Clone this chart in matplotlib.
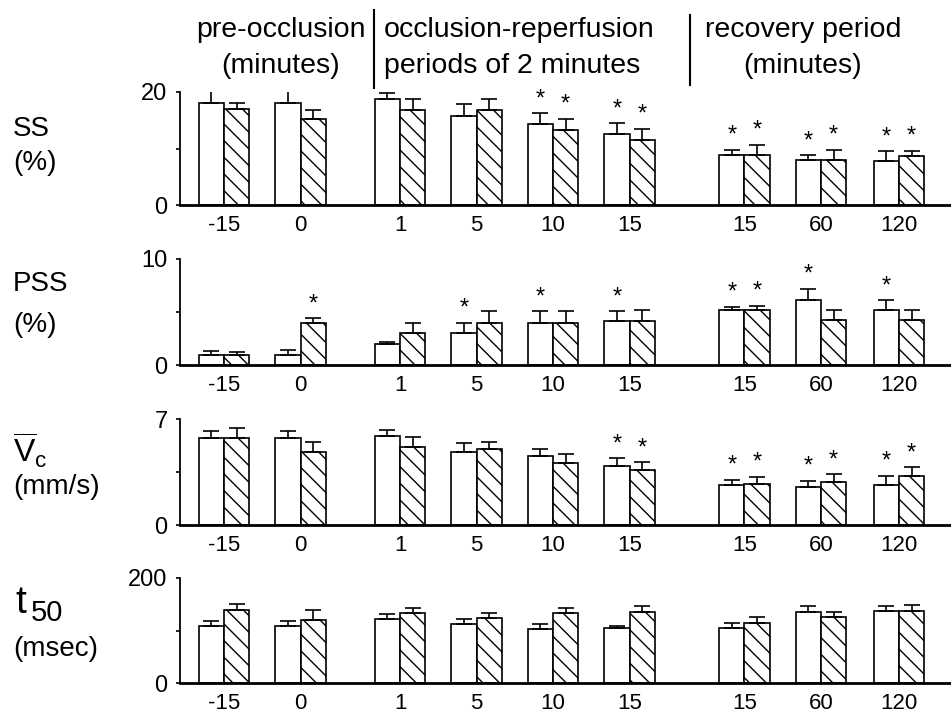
import matplotlib
matplotlib.use("Agg")
import matplotlib.pyplot as plt
from matplotlib.lines import Line2D

plt.rcParams['font.family'] = ['Liberation Sans', 'DejaVu Sans']
plt.rcParams['mathtext.fontset'] = 'custom'
plt.rcParams['mathtext.rm'] = 'Liberation Sans'
plt.rcParams['mathtext.it'] = 'Liberation Sans'
plt.rcParams['hatch.linewidth'] = 1.0

# Données
groups = ['-15', '0', '1', '5', '10', '15', '15', '60', '120']

ss_white = [18.1, 18.1, 18.8, 15.8, 14.3, 12.5, 8.85, 7.9, 7.8]
ss_white_err = [2.1, 2.0, 1.0, 2.0, 1.9, 2.0, 0.9, 0.95, 1.7]
ss_hatch = [17.0, 15.2, 16.8, 16.8, 13.3, 11.5, 8.8, 7.9, 8.7]
ss_hatch_err = [1.0, 1.7, 2.0, 2.0, 2.0, 2.0, 1.9, 1.9, 0.9]
ss_white_star = [0, 0, 0, 0, 1, 1, 1, 1, 1]
ss_hatch_star = [0, 0, 0, 0, 1, 1, 1, 1, 1]

pss_white = [0.9, 0.9, 2.0, 3.0, 4.0, 4.15, 5.15, 6.15, 5.15]
pss_white_err = [0.45, 0.5, 0.2, 1.0, 1.1, 0.95, 0.35, 1.05, 0.95]
pss_hatch = [0.9, 4.0, 3.0, 4.0, 4.0, 4.15, 5.15, 4.2, 4.2]
pss_hatch_err = [0.35, 0.4, 1.0, 1.1, 1.1, 1.05, 0.45, 1.0, 0.95]
pss_white_star = [0, 0, 0, 1, 1, 1, 1, 1, 1]
pss_hatch_star = [0, 1, 0, 0, 0, 0, 1, 0, 0]

vc_white = [5.73, 5.73, 5.89, 4.82, 4.53, 3.92, 2.62, 2.52, 2.67]
vc_white_err = [0.5, 0.47, 0.39, 0.58, 0.5, 0.5, 0.38, 0.41, 0.59]
vc_hatch = [5.73, 4.79, 5.14, 5.03, 4.09, 3.63, 2.69, 2.82, 3.26]
vc_hatch_err = [0.7, 0.68, 0.66, 0.48, 0.59, 0.5, 0.51, 0.55, 0.57]
vc_white_star = [0, 0, 0, 0, 0, 1, 1, 1, 1]
vc_hatch_star = [0, 0, 0, 0, 0, 1, 1, 1, 1]

t50_white = [109, 109, 122, 112, 103, 105, 105, 136, 137]
t50_white_err = [10, 10, 10, 10, 10, 3, 10, 11, 10]
t50_hatch = [140, 120, 133, 123, 134, 135, 115, 126, 137]
t50_hatch_err = [10, 20, 10, 11, 9, 11, 11, 10, 11]
t50_white_star = [0] * 9
t50_hatch_star = [0] * 9

# Mise en page (positions des groupes sur l'axe)
xpos = [0, 1, 2.3, 3.3, 4.3, 5.3, 6.8, 7.8, 8.82]
bw = 0.33

W, H = 951, 714
fig = plt.figure(figsize=(W / 100, H / 100), dpi=100)


def add_panel(top, bottom, ymax, white, werr, hatch, herr, wstar, hstar):
    ax = fig.add_axes([180 / W, 1 - bottom / H, (W - 180) / W, (bottom - top) / H])
    left = [x - bw / 2 for x in xpos]
    right = [x + bw / 2 for x in xpos]
    ax.bar(left, white, bw, color='white', edgecolor='black', linewidth=1.2, zorder=2)
    ax.bar(right, hatch, bw, color='white', edgecolor='black', linewidth=1.2,
           hatch='\\\\', zorder=2)
    for xs, ys, es, st in [(left, white, werr, wstar), (right, hatch, herr, hstar)]:
        ax.errorbar(xs, ys, yerr=[[0] * len(ys), es], fmt='none', ecolor='black',
                    elinewidth=1.2, capsize=6, capthick=1.2, zorder=3)
        for x, y, e, s in zip(xs, ys, es, st):
            if s:
                ax.annotate('*', (x, y + e), xytext=(0, 10), textcoords='offset points',
                            ha='center', va='center', fontsize=17)
    ax.set_xlim(-0.575, 9.5)
    ax.set_ylim(0, ymax)
    ax.set_yticks([0, ymax / 2, ymax])
    ax.set_yticklabels(['0', '', '%g' % ymax], fontsize=17)
    ax.set_xticks(xpos)
    ax.set_xticklabels(groups, fontsize=16)
    ax.tick_params(axis='x', length=0, pad=7)
    ax.tick_params(axis='y', direction='out', length=3, width=1.2, pad=6)
    for s in ['top', 'right']:
        ax.spines[s].set_visible(False)
    ax.spines['left'].set_linewidth(1.3)
    ax.spines['bottom'].set_linewidth(2.0)
    ax.patch.set_alpha(0)
    return ax


add_panel(92, 205, 20, ss_white, ss_white_err, ss_hatch, ss_hatch_err, ss_white_star, ss_hatch_star)
add_panel(259, 365, 10, pss_white, pss_white_err, pss_hatch, pss_hatch_err, pss_white_star, pss_hatch_star)
add_panel(419, 525, 7, vc_white, vc_white_err, vc_hatch, vc_hatch_err, vc_white_star, vc_hatch_star)
add_panel(578, 683, 200, t50_white, t50_white_err, t50_hatch, t50_hatch_err, t50_white_star, t50_hatch_star)


def ftext(x, y, s, **kw):
    fig.text(x / W, 1 - y / H, s, **kw)


# Étiquettes à gauche
lab = dict(fontsize=20, ha='left', va='center')
ftext(13, 129, 'SS', **lab)
ftext(13, 163, '(%)', **lab)
ftext(13, 284, 'PSS', **lab)
ftext(13, 325, '(%)', **lab)
ftext(13, 450, r'$\overline{\mathrm{V}}_{\mathrm{c}}$', fontsize=23, ha='left', va='center')
ftext(13, 487, '(mm/s)', **lab)
ftext(15, 603, 't', fontsize=28, ha='left', va='center')
ftext(31, 613, '50', fontsize=21, ha='left', va='center')
ftext(13, 649, '(msec)', **lab)

# En-têtes
hd = dict(fontsize=20.5, va='center')
ftext(366, 30, 'pre-occlusion', ha='right', **hd)
ftext(281, 66, '(minutes)', ha='center', **hd)
ftext(384, 30, 'occlusion-reperfusion', ha='left', **hd)
ftext(384, 66, 'periods of 2 minutes', ha='left', **hd)
ftext(803, 30, 'recovery period', ha='center', **hd)
ftext(803, 66, '(minutes)', ha='center', **hd)
fig.add_artist(Line2D([374 / W, 374 / W], [1 - 10 / H, 1 - 88 / H], color='black', lw=1.5))
fig.add_artist(Line2D([690 / W, 690 / W], [1 - 15 / H, 1 - 85 / H], color='black', lw=1.5))

fig.savefig('out.png', dpi=100)
